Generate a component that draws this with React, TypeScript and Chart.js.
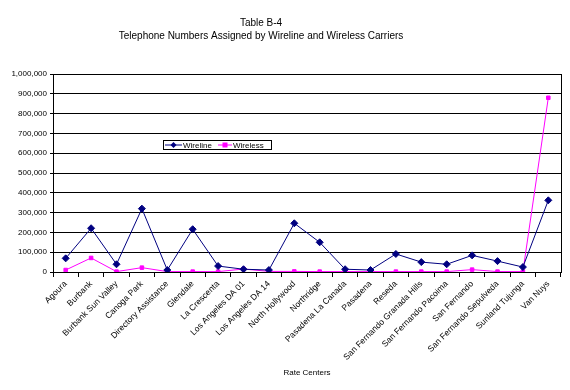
import React, { useEffect, useRef } from "react";
import { Chart, registerables } from "chart.js";

Chart.register(...registerables);

const categories = [
  "Agoura", "Burbank", "Burbank Sun Valley", "Canoga Park", "Directory Assistance",
  "Glendale", "La Crescenta", "Los Angeles DA 01", "Los Angeles DA 14", "North Hollywood",
  "Northridge", "Pasadena La Canada", "Pasadena", "Reseda", "San Fernando Granada Hills",
  "San Fernando Pacoima", "San Fernando", "San Fernando Sepulveda", "Sunland Tujunga", "Van Nuys",
];
const wireline = [69000, 221000, 39000, 320000, 10000, 216000, 30000, 14000, 10000, 246000, 150000, 14000, 10000, 91000, 50000, 39000, 84000, 55000, 25000, 362000];
const wireless = [10000, 71000, 2000, 22000, 2000, 2000, 2000, 15000, 3000, 3000, 2000, 2000, 2000, 2000, 2000, 2000, 12000, 2000, 2000, 880000];
const titleLines = ["Table B-4", "Telephone Numbers Assigned by Wireline and Wireless Carriers"];
const xTitle = "Rate Centers";
const seriesNames = ["Wireline", "Wireless"];

const FONT = "'Liberation Sans', Arial, sans-serif";

const decorPlugin = {
  id: "decor",
  afterDraw(chart: any) {
    const ctx = chart.ctx;
    const ca = chart.chartArea;
    ctx.save();
    ctx.strokeStyle = "#000";
    ctx.lineWidth = 1;
    ctx.beginPath();
    ctx.moveTo(Math.round(ca.right) + 0.5, ca.top);
    ctx.lineTo(Math.round(ca.right) + 0.5, ca.bottom);
    ctx.stroke();
    ctx.fillStyle = "#000";
    ctx.textAlign = "center";
    ctx.textBaseline = "middle";
    ctx.font = `10px ${FONT}`;
    ctx.fillText(titleLines[0], 261, 23);
    ctx.fillText(titleLines[1], 261, 36);
    const bx = 163.5, by = 140.5, bw = 108, bh = 9;
    ctx.fillStyle = "#fff";
    ctx.fillRect(bx, by, bw, bh);
    ctx.strokeStyle = "#000";
    ctx.strokeRect(bx, by, bw, bh);
    const items = [
      { x0: 165, x1: 182, tx: 183, color: "#000080", style: "rectRot", label: seriesNames[0] },
      { x0: 218, x1: 232, tx: 233, color: "#FF00FF", style: "rect", label: seriesNames[1] },
    ];
    const cy = by + bh / 2;
    items.forEach((it) => {
      ctx.strokeStyle = it.color;
      ctx.lineWidth = 1;
      ctx.beginPath();
      ctx.moveTo(it.x0, cy);
      ctx.lineTo(it.x1, cy);
      ctx.stroke();
      ctx.fillStyle = it.color;
      const mx = (it.x0 + it.x1) / 2;
      if (it.style === "rect") {
        ctx.fillRect(mx - 2.5, cy - 2.5, 5, 5);
      } else {
        ctx.beginPath();
        ctx.moveTo(mx, cy - 3);
        ctx.lineTo(mx + 3, cy);
        ctx.lineTo(mx, cy + 3);
        ctx.lineTo(mx - 3, cy);
        ctx.closePath();
        ctx.fill();
      }
      ctx.fillStyle = "#000";
      ctx.textAlign = "left";
      ctx.font = `8px ${FONT}`;
      ctx.fillText(it.label, it.tx, cy + 0.5);
    });
    ctx.restore();
  },
};

export default function App() {
  const ref = useRef<HTMLCanvasElement>(null);
  useEffect(() => {
    if (!ref.current) return;
    const chart = new Chart(ref.current, {
      type: "line",
      data: {
        labels: categories,
        datasets: [
          {
            label: seriesNames[0],
            data: wireline,
            borderColor: "#000080",
            backgroundColor: "#000080",
            borderWidth: 1,
            pointStyle: "rectRot",
            pointRadius: 3.5,
            pointBorderWidth: 1,
            tension: 0,
          },
          {
            label: seriesNames[1],
            data: wireless,
            borderColor: "#FF00FF",
            backgroundColor: "#FF00FF",
            borderWidth: 1,
            pointStyle: "rect",
            pointRadius: 2.5,
            pointBorderWidth: 1,
            tension: 0,
          },
        ],
      },
      options: {
        responsive: false,
        animation: false,
        layout: { padding: { top: 74, left: 0, right: 9, bottom: 0 } },
        plugins: {
          legend: { display: false },
          title: { display: false },
          tooltip: { enabled: false },
        },
        scales: {
          x: {
            offset: true,
            grid: {
              drawOnChartArea: false,
              drawTicks: true,
              tickLength: 5,
              offset: true,
              color: "#000",
            },
            border: { display: true, color: "#000" },
            ticks: {
              autoSkip: false,
              maxRotation: 45,
              minRotation: 45,
              padding: 2,
              color: "#000",
              font: { family: FONT, size: 8.5 },
            },
            title: {
              display: true,
              text: xTitle,
              color: "#000",
              font: { family: FONT, size: 8 },
              padding: { top: 0, bottom: 12 },
            },
            afterFit(scale: any) {
              scale.height = 118;
            },
          },
          y: {
            min: 0,
            max: 1000000,
            ticks: {
              stepSize: 100000,
              padding: 3,
              color: "#000",
              font: { family: FONT, size: 8 },
              callback: (v: any) => Number(v).toLocaleString("en-US"),
            },
            grid: { color: "#000", lineWidth: 1, tickLength: 3 },
            border: { display: true, color: "#000" },
            afterFit(scale: any) {
              scale.width = 53;
            },
          },
        },
      },
      plugins: [decorPlugin],
    });
    return () => chart.destroy();
  }, []);
  return (
    <div style={{ position: "absolute", left: 0, top: 0, width: 570, height: 390, background: "#fff" }}>
      <canvas ref={ref} width={570} height={390} />
    </div>
  );
}
